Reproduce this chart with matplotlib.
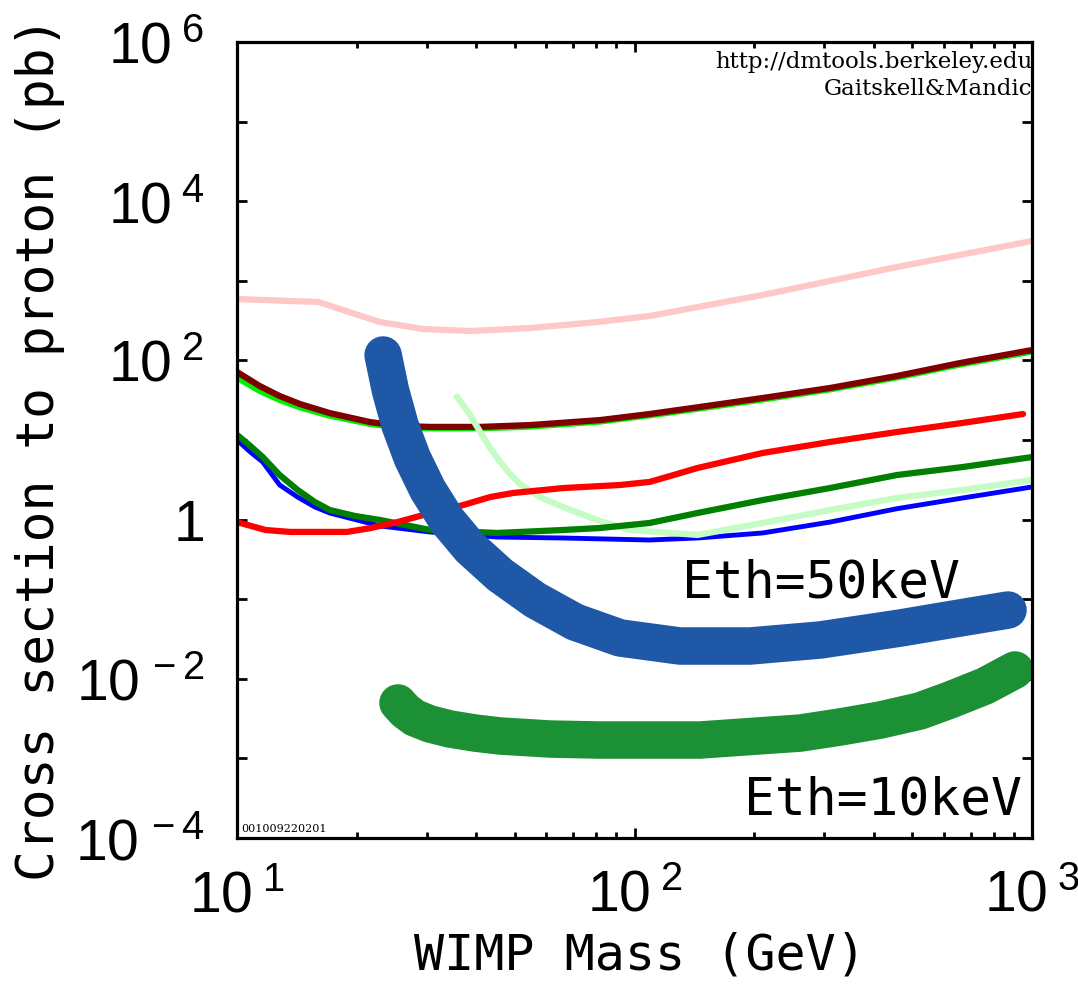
import matplotlib
matplotlib.use('Agg')
import matplotlib.pyplot as plt
from matplotlib.ticker import FixedLocator, FixedFormatter, NullLocator, NullFormatter

# ---- data (WIMP mass in GeV, cross section in pb) ----
pink_m = [10, 16.0, 22.9, 29.4, 38.6, 54.6, 80.5, 109, 210, 457, 1000]
pink_s = [590, 542, 303, 248, 234, 255, 303, 361, 664, 1489, 3162]

maroon_m = [10, 11.4, 12.8, 14.4, 17.1, 21.6, 25.7, 30.6, 40.9, 54.6, 81.9, 109, 146, 210, 310, 457, 659, 1000]
maroon_s = [71.5, 47.7, 35.7, 28.3, 21.8, 16.8, 15.0, 14.6, 14.6, 15.4, 17.8, 21.2, 26.0, 33.7, 45.0, 63.7, 92.7, 135]
lime_s = [60, 41, 31.5, 25.5, 20.0, 15.8, 14.2, 13.9, 13.9, 14.6, 16.9, 20.2, 24.7, 32.0, 42.8, 60.5, 88, 128]

red_m = [10, 11.8, 13.6, 18.9, 21.6, 25.3, 29.4, 37.0, 43.3, 49.5, 66.1, 91.9, 109, 123, 144, 210, 310, 457, 670, 949]
red_s = [0.93, 0.74, 0.70, 0.70, 0.78, 0.93, 1.14, 1.52, 1.92, 2.16, 2.49, 2.72, 2.97, 3.53, 4.45, 6.87, 9.44, 12.6, 16.4, 21.2]

dgreen_m = [10, 10.8, 11.6, 12.8, 14.2, 15.7, 17.1, 19.8, 22.9, 30.6, 45.1, 66.1, 81.9, 109, 144, 210, 310, 457, 670, 1000]
dgreen_s = [11.6, 8.41, 6.11, 3.63, 2.36, 1.66, 1.32, 1.11, 0.988, 0.740, 0.679, 0.740, 0.784, 0.906, 1.21, 1.76, 2.49, 3.63, 4.58, 6.11]

blue_m = [10, 10.8, 11.6, 12.8, 14.2, 15.7, 17.1, 22.9, 30.6, 45.1, 66.1, 109, 144, 210, 310, 457, 670, 1000]
blue_s = [10.0, 7.06, 5.30, 2.72, 1.92, 1.44, 1.21, 0.832, 0.698, 0.604, 0.587, 0.554, 0.587, 0.679, 0.93, 1.37, 1.87, 2.57]

lgreen_m = [35.8, 37.0, 38.6, 40.9, 43.3, 45.9, 48.6, 51.5, 57.8, 66.1, 80.5, 97.4, 144, 210, 310, 457, 670, 1000]
lgreen_s = [34.7, 27.5, 20.6, 12.6, 7.93, 5.30, 3.74, 2.80, 1.92, 1.44, 0.988, 0.740, 0.641, 0.906, 1.32, 1.87, 2.36, 3.14]

# projected sensitivities (thick bands)
eth50_m = [23.3, 24.3, 25.7, 27.6, 30.2, 33.7, 38.6, 45.9, 56.2, 70.8, 91.9, 130, 195, 293, 466, 659, 870]
eth50_s = [117, 42.5, 15.4, 5.94, 2.36, 0.988, 0.440, 0.201, 0.0977, 0.0517, 0.0326, 0.0258, 0.0258, 0.0307, 0.0434, 0.0581, 0.0731]

eth10_m = [25.4, 26.5, 28.0, 30.6, 34.3, 39.7, 45.9, 61.3, 81.9, 146, 261, 329, 415, 522, 622, 762, 906]
eth10_s = [0.00497, 0.00394, 0.00322, 0.00270, 0.00234, 0.00208, 0.00191, 0.00175, 0.00170, 0.00170,
           0.00208, 0.00248, 0.00303, 0.00394, 0.00542, 0.00813, 0.0129]

y_ticks = [1e-4, 1e-3, 1e-2, 1e-1, 1, 1e1, 1e2, 1e3, 1e4, 1e5, 1e6]
y_labels = [r'$10^{\,-4}$', '', r'$10^{\,-2}$', '', r'$1$', '', r'$10^{\;2}$', '', r'$10^{\;4}$', '', r'$10^{\;6}$']
x_ticks = [10, 100, 1000]
x_labels = [r'$10^{\;1}$', r'$10^{\;2}$', r'$10^{\;3}$']
x_minor = [m * d for d in (10, 100) for m in range(2, 10)]

plt.rcParams['mathtext.fontset'] = 'custom'
plt.rcParams['mathtext.rm'] = 'Liberation Sans'
plt.rcParams['mathtext.it'] = 'Liberation Sans'
plt.rcParams['mathtext.bf'] = 'Liberation Sans'

fig = plt.figure(figsize=(10.78, 9.84), dpi=100)
ax = fig.add_axes([0.2199, 0.1484, 0.7375, 0.8089])
ax.set_xscale('log')
ax.set_yscale('log')
ax.set_xlim(10, 1000)
ax.set_ylim(1e-4, 1e6)

ax.plot(pink_m, pink_s, color='#ffc8c8', lw=4.5)
ax.plot(maroon_m, lime_s, color='#00ee00', lw=4.0)
ax.plot(maroon_m, maroon_s, color='#800000', lw=4.5)
ax.plot(blue_m, blue_s, color='#0000ff', lw=3.5)
ax.plot(lgreen_m, lgreen_s, color='#c4fcc4', lw=4.5)
ax.plot(dgreen_m, dgreen_s, color='#007f00', lw=4.5)
ax.plot(red_m, red_s, color='#ff0000', lw=4.5, solid_capstyle='round')

ax.plot(eth50_m, eth50_s, color='#1f58a6', lw=27, solid_capstyle='round', solid_joinstyle='round')
ax.plot(eth10_m, eth10_s, color='#1b9035', lw=27, solid_capstyle='round', solid_joinstyle='round')

mono = 'DejaVu Sans Mono'
ax.text(0.909, 0.302, 'Eth=50keV', transform=ax.transAxes, ha='right', va='baseline',
        fontsize=37, family=mono)
ax.text(0.987, 0.029, 'Eth=10keV', transform=ax.transAxes, ha='right', va='baseline',
        fontsize=37, family=mono)
ax.text(1.0, 0.967, 'http://dmtools.berkeley.edu', transform=ax.transAxes, ha='right',
        va='baseline', fontsize=16.5, family='DejaVu Serif')
ax.text(1.0, 0.933, 'Gaitskell&Mandic', transform=ax.transAxes, ha='right',
        va='baseline', fontsize=16.5, family='DejaVu Serif')
ax.text(0.005, 0.008, '001009220201', transform=ax.transAxes, ha='left',
        va='baseline', fontsize=8, family='DejaVu Serif')

# ticks
ax.yaxis.set_major_locator(FixedLocator(y_ticks))
ax.yaxis.set_major_formatter(FixedFormatter(y_labels))
ax.yaxis.set_minor_locator(NullLocator())
ax.xaxis.set_major_locator(FixedLocator(x_ticks))
ax.xaxis.set_major_formatter(FixedFormatter(x_labels))
ax.xaxis.set_minor_locator(FixedLocator(x_minor))
ax.xaxis.set_minor_formatter(NullFormatter())
ax.tick_params(which='both', direction='in', top=True, right=True, width=2, color='black')
ax.tick_params(which='major', length=7)
ax.tick_params(which='minor', length=4)
ax.tick_params(axis='y', which='major', labelsize=41, pad=24)
ax.tick_params(axis='x', which='major', labelsize=41, pad=22)
for s in ax.spines.values():
    s.set_linewidth(2.3)

fig.text(640 / 1078, 1 - 955 / 984, 'WIMP Mass (GeV)', ha='center', va='center',
         fontsize=36, family=mono)
fig.text(40 / 1078, 1 - 449 / 984, 'Cross section to proton (pb)', ha='center', va='center',
         rotation=90, fontsize=37, family=mono)

fig.savefig('out.png', dpi=100)
